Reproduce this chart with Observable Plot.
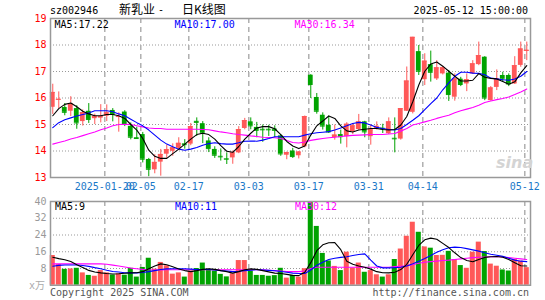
<!DOCTYPE html>
<html><head><meta charset="utf-8">
<script src="https://cdn.jsdelivr.net/npm/d3@7"></script>
<script src="https://cdn.jsdelivr.net/npm/@observablehq/plot@0.6"></script>
<style>
html,body{margin:0;padding:0;background:#fff;}
#wrap{position:relative;width:545px;height:300px;overflow:hidden;background:#fff;font-family:"DejaVu Sans Mono",monospace;font-size:10px;}
.t{position:absolute;white-space:nowrap;line-height:1;}
.cjk{font-family:"Noto Sans CJK SC",sans-serif;}
#main,#vol{position:absolute;left:0;}
#main{top:0px;}
#vol{top:195px;}
</style></head><body>
<div id="wrap">
  <div id="main"></div>
  <div id="vol"></div>
  <div class="t" style="left:50px;top:6px;color:#000;">sz002946</div>
  <div class="t cjk" style="left:119px;top:3px;font-size:12px;color:#000;">新乳业</div>
  <div class="t" style="left:158px;top:5px;font-size:10px;color:#000;">-</div>
  <div class="t cjk" style="left:182px;top:3px;font-size:12px;color:#000;">日K线图</div>
  <div class="t" style="right:17px;top:6px;color:#000;">2025-05-12 15:00:00</div>
  <div class="t" style="left:54.5px;top:19.5px;color:#000;">MA5:17.22</div>
  <div class="t" style="left:174.5px;top:19.5px;color:#0000ff;">MA10:17.00</div>
  <div class="t" style="left:294.5px;top:19.5px;color:#ff00ff;">MA30:16.34</div>
  <div class="t" style="left:55px;top:202px;color:#000;">MA5:9</div>
  <div class="t" style="left:175px;top:202px;color:#0000ff;">MA10:11</div>
  <div class="t" style="left:295px;top:202px;color:#ff00ff;">MA30:12</div>
  <div class="t" style="left:29px;top:280px;color:#aaa;">x<span class="cjk">万</span></div>
  <div class="t" style="left:50px;top:288px;color:#555;">Copyright 2025 SINA.COM</div>
  <div class="t" style="right:16px;top:288px;color:#555;">http://finance.sina.com.cn</div>
  <div class="t" style="left:496px;top:155px;font-family:'DejaVu Sans',sans-serif;font-size:16px;font-weight:bold;font-style:italic;color:#d4d4d4;">sina</div>
</div>
<script>
const dates = ["01-07","01-08","01-09","01-10","01-13","01-14","01-15","01-16","01-17","01-20","01-21","01-22","01-23","01-24","01-27","02-05","02-06","02-07","02-10","02-11","02-12","02-13","02-14","02-17","02-18","02-19","02-20","02-21","02-24","02-25","02-26","02-27","02-28","03-03","03-04","03-05","03-06","03-07","03-10","03-11","03-12","03-13","03-14","03-17","03-18","03-19","03-20","03-21","03-24","03-25","03-26","03-27","03-28","03-31","04-01","04-02","04-03","04-07","04-08","04-09","04-10","04-11","04-14","04-15","04-16","04-17","04-18","04-21","04-22","04-23","04-24","04-25","04-28","04-29","04-30","05-06","05-07","05-08","05-09","05-12"];
const open = [15.65,15.92,15.64,15.50,15.60,15.11,15.50,15.22,15.24,15.31,15.53,15.27,15.47,14.93,14.50,14.62,13.68,13.29,13.58,13.88,13.99,14.10,14.27,14.26,15.12,15.03,14.38,14.06,13.80,13.71,13.74,13.93,14.85,15.10,14.89,14.82,14.82,14.83,14.57,13.84,14.00,13.82,14.16,16.86,16.02,15.35,14.97,14.51,14.62,14.54,14.73,14.81,15.10,14.54,14.82,14.86,14.65,14.48,14.45,15.50,15.46,17.75,16.69,17.26,16.72,16.91,16.94,16.03,16.71,16.53,16.91,17.26,17.54,15.90,16.40,16.85,16.85,16.53,17.23,17.76];
const high = [16.52,16.23,15.79,16.05,15.71,15.55,15.79,15.39,15.75,15.74,15.60,15.44,15.52,15.06,14.90,14.70,13.72,13.86,14.06,14.22,14.27,14.50,14.43,15.04,15.25,15.11,14.50,14.16,14.08,13.93,14.00,14.92,15.23,15.25,15.08,14.98,14.97,14.95,14.62,13.96,14.10,13.98,15.32,16.88,16.17,15.44,15.32,14.98,14.79,15.07,15.04,15.38,15.12,14.98,15.10,15.01,15.25,15.25,15.60,17.17,18.29,17.98,17.67,17.77,17.41,17.19,17.04,16.91,16.78,16.91,17.41,18.11,17.56,16.43,17.06,16.97,16.91,17.56,18.11,18.11];
const low = [15.38,15.60,15.33,15.30,14.82,14.94,15.04,15.00,15.06,15.11,15.10,14.71,14.92,14.42,14.45,13.55,13.03,13.14,13.05,13.72,13.80,14.02,14.07,14.20,14.55,14.28,13.94,13.72,13.62,13.49,13.50,13.90,14.80,14.80,14.50,14.33,14.55,14.50,13.80,13.67,13.72,13.70,14.12,15.98,15.39,14.79,14.66,14.41,14.26,14.12,14.62,14.78,14.50,14.22,14.79,14.66,14.62,13.93,14.41,15.49,15.40,16.85,16.47,16.60,16.66,16.87,15.87,15.88,16.43,16.24,16.89,17.22,15.90,15.88,16.28,16.60,16.43,16.51,17.16,17.41];
const close = [16.21,15.95,15.46,15.78,15.06,15.45,15.19,15.31,15.30,15.44,15.38,15.30,15.00,14.52,14.47,13.69,13.31,13.57,13.87,14.05,14.12,14.29,14.24,14.92,15.08,14.67,14.09,13.84,13.78,13.69,13.93,14.81,15.15,14.95,14.78,14.80,14.80,14.78,13.89,13.94,13.79,13.96,15.30,16.51,15.50,14.94,14.72,14.60,14.54,15.01,14.95,15.10,14.72,14.80,14.93,14.84,15.10,14.46,15.60,16.64,18.29,17.01,17.39,16.97,17.14,17.14,16.13,16.72,16.51,16.69,17.29,17.60,16.00,16.38,16.73,16.72,16.53,17.22,17.85,17.80];
const volume = [14.2,9.9,7.6,7.8,8.1,5.9,4.7,4.3,7.0,5.9,4.9,5.5,4.8,8.1,3.9,8.5,12.9,7.7,10.9,9.3,5.3,5.9,3.9,6.8,8.0,10.6,7.6,6.8,5.2,4.0,5.5,11.8,11.8,6.8,4.7,4.7,4.3,4.6,8.1,3.4,4.7,3.9,7.9,39.7,28.1,15.2,11.6,9.0,7.0,15.8,8.2,10.6,6.2,7.0,5.0,3.9,5.0,12.3,17.3,23.4,30.1,25.3,18.3,17.7,14.2,14.3,16.2,12.3,9.4,8.1,15.8,20.6,16.1,10.1,9.1,7.3,6.8,12.3,11.5,8.4];
const ma5 = [15.33,15.60,15.76,15.81,15.67,15.50,15.40,15.33,15.33,15.38,15.38,15.33,15.23,15.00,14.79,14.47,14.03,13.80,13.72,13.72,13.90,14.07,14.26,14.45,14.62,14.67,14.62,14.45,14.20,13.99,13.95,14.17,14.45,14.67,14.87,14.92,14.92,14.84,14.62,14.36,14.19,14.09,14.19,14.60,14.95,15.13,15.32,15.23,14.95,14.76,14.72,14.79,14.82,14.85,14.85,14.81,14.79,14.81,14.98,15.30,15.86,16.49,17.01,17.28,17.36,17.20,17.01,16.82,16.64,16.64,16.67,16.92,16.78,16.74,16.72,16.62,16.52,16.61,16.95,17.22];
const ma10 = [14.88,15.07,15.18,15.25,15.32,15.38,15.43,15.52,15.52,15.52,15.48,15.40,15.33,15.20,15.07,14.95,14.79,14.60,14.41,14.26,14.16,14.07,14.03,14.07,14.13,14.22,14.28,14.31,14.28,14.26,14.26,14.31,14.37,14.38,14.37,14.41,14.47,14.54,14.54,14.54,14.54,14.54,14.60,14.65,14.69,14.71,14.73,14.79,14.87,14.95,15.04,15.08,15.06,14.98,14.89,14.85,14.81,14.79,14.85,15.00,15.16,15.33,15.56,15.79,16.00,16.31,16.57,16.82,16.97,16.97,16.94,16.93,16.88,16.75,16.72,16.69,16.67,16.72,16.82,17.00];
const ma30 = [14.26,14.32,14.38,14.45,14.51,14.58,14.65,14.72,14.80,14.87,14.95,15.00,15.01,15.00,14.95,14.91,14.87,14.85,14.85,14.82,14.82,14.82,14.82,14.82,14.82,14.81,14.80,14.76,14.72,14.69,14.65,14.62,14.60,14.57,14.55,14.52,14.51,14.50,14.47,14.40,14.32,14.30,14.34,14.40,14.44,14.47,14.50,14.52,14.55,14.57,14.59,14.60,14.61,14.62,14.62,14.62,14.64,14.66,14.75,14.85,14.98,15.04,15.10,15.16,15.23,15.29,15.35,15.44,15.52,15.58,15.64,15.73,15.83,15.89,15.94,15.98,16.04,16.13,16.23,16.34];
const vma5 = [13.4,12.7,12.2,11.3,9.8,8.5,7.1,6.3,5.9,5.6,5.4,5.5,5.7,5.9,6.0,6.5,7.9,9.2,10.2,9.8,8.8,7.8,7.0,6.5,7.0,7.6,7.9,7.6,7.0,6.5,5.8,6.5,7.4,7.8,7.6,7.0,6.4,5.8,5.6,5.2,4.7,4.6,6.2,10.8,16.5,19.3,20.3,20.4,17.0,11.5,10.0,9.2,8.6,7.7,6.5,6.0,5.9,6.2,7.5,10.0,14.6,19.0,21.7,22.5,22.0,20.0,18.0,15.5,13.2,11.8,11.2,12.3,13.3,13.6,13.7,13.4,12.3,10.7,9.3,9.2];
const vma10 = [9.1,9.5,9.7,9.7,9.7,9.4,9.0,8.4,7.9,7.2,6.6,6.3,6.0,5.9,5.9,6.1,6.5,7.0,7.5,7.8,7.9,7.9,7.9,7.7,7.5,7.5,7.5,7.3,7.0,6.8,6.5,6.7,7.0,7.2,7.5,7.3,7.1,6.9,6.6,6.2,5.8,5.6,5.6,7.3,9.5,11.0,12.3,12.9,13.3,13.6,14.2,14.7,15.0,12.0,9.2,8.3,8.3,8.4,8.6,9.2,10.3,11.5,12.8,14.2,15.8,17.0,17.9,18.2,18.0,17.5,16.9,16.3,15.5,14.8,14.3,13.8,12.9,12.0,11.5,11.3];
const vma30 = [10.2,10.2,10.2,10.2,10.2,10.2,10.2,10.2,10.2,10.0,9.6,9.2,8.7,8.2,7.9,7.6,7.4,7.3,7.3,7.4,7.4,7.4,7.4,7.4,7.4,7.4,7.4,7.4,7.4,7.4,7.4,7.4,7.4,7.4,7.4,7.4,7.2,7.0,6.8,6.6,6.5,6.5,6.8,8.0,8.6,8.6,8.6,8.6,8.6,8.6,8.6,8.6,8.6,8.6,8.6,8.6,8.6,8.9,9.1,9.3,9.8,10.5,11.0,11.3,11.5,11.8,12.0,12.3,12.6,12.9,13.2,13.4,13.5,13.6,13.7,13.5,13.2,12.9,12.6,12.3];
const tickDates = ["01-20","02-05","02-17","03-03","03-17","03-31","04-14","05-12"];
const tickLabels = ["2025-01-20","02-05","02-17","03-03","03-17","03-31","04-14","05-12"];
const priceTicks = [13,14,15,16,17,18,19];
const volTicks = [8,16,24,32,40];

const RED = "#ff5858", GREEN = "#00a300", BLUE_T = "#1a78c8";
const n = dates.length;
const rows = dates.map((d, i) => ({
  i, date: d, open: open[i], high: high[i], low: low[i], close: close[i], vol: volume[i],
  ma5: ma5[i], ma10: ma10[i], ma30: ma30[i], vma5: vma5[i], vma10: vma10[i], vma30: vma30[i],
  c: close[i] >= open[i] ? RED : GREEN
}));
const shift = -1/3;
const ticks = tickDates.map((d, k) => ({pos: dates.indexOf(d) + shift, label: tickLabels[k]}));
const xDom = [-0.38, n - 0.38];
const half = 0.4;
const font = "'DejaVu Sans Mono', monospace";

const main = Plot.plot({
  width: 545, height: 195,
  marginLeft: 50, marginRight: 15, marginTop: 18, marginBottom: 18,
  x: {domain: xDom, axis: null},
  y: {domain: [13, 19], axis: null},
  color: {type: "identity"},
  style: {fontFamily: font, fontSize: "10px", background: "transparent", overflow: "visible"},
  marks: [
    Plot.ruleY(priceTicks.slice(1, -1), {stroke: "#999", strokeDasharray: "1,2"}),
    Plot.ruleX(ticks, {x: "pos", stroke: "#b0b0b0", strokeWidth: 1.5, strokeDasharray: "5,4"}),
    Plot.ruleX(rows, {x: "i", y1: "low", y2: "high", stroke: "c", strokeWidth: 1}),
    Plot.rect(rows, {x1: d => d.i - half, x2: d => d.i + half, y1: "open", y2: "close", fill: "c"}),
    Plot.ruleY(rows, {x1: d => d.i - half, x2: d => d.i + half, y: "close", stroke: "c"}),
    Plot.lineY(rows, {x: "i", y: "ma30", stroke: "#ff00ff", strokeWidth: 1.1}),
    Plot.lineY(rows, {x: "i", y: "ma10", stroke: "#0000ff", strokeWidth: 1.1}),
    Plot.lineY(rows, {x: "i", y: "ma5", stroke: "#000", strokeWidth: 1.1}),
    Plot.text(priceTicks, {y: d => d, text: d => String(d), frameAnchor: "left", textAnchor: "end", dx: -4, fill: "#f00", fontSize: 10}),
    Plot.text(ticks, {x: "pos", text: "label", frameAnchor: "bottom", lineAnchor: "top", dy: 5.5, fill: BLUE_T, fontSize: 10}),
    Plot.frame({stroke: "#999", strokeWidth: 1.5})
  ]
});
document.getElementById("main").appendChild(main);

const vol = Plot.plot({
  width: 545, height: 105,
  marginLeft: 50, marginRight: 15, marginTop: 6, marginBottom: 15.25,
  x: {domain: xDom, axis: null},
  y: {domain: [0, 40], axis: null},
  color: {type: "identity"},
  style: {fontFamily: font, fontSize: "10px", background: "transparent", overflow: "visible"},
  marks: [
    Plot.ruleY(volTicks.slice(0, -1), {stroke: "#999", strokeDasharray: "1,2"}),
    Plot.ruleX(ticks, {x: "pos", stroke: "#b0b0b0", strokeWidth: 1.5, strokeDasharray: "5,4"}),
    Plot.rectY(rows, {x1: d => d.i - 0.42, x2: d => d.i + 0.42, y: "vol", fill: "c"}),
    Plot.lineY(rows, {x: "i", y: "vma30", stroke: "#ff00ff", strokeWidth: 1.1}),
    Plot.lineY(rows, {x: "i", y: "vma10", stroke: "#0000ff", strokeWidth: 1.1}),
    Plot.lineY(rows, {x: "i", y: "vma5", stroke: "#000", strokeWidth: 1.1}),
    Plot.text(volTicks, {y: d => d, text: d => String(d), frameAnchor: "left", textAnchor: "end", dx: -4, fill: "#999", fontSize: 10}),
    Plot.frame({stroke: "#999", strokeWidth: 1.5})
  ]
});
document.getElementById("vol").appendChild(vol);
</script>
</body></html>
